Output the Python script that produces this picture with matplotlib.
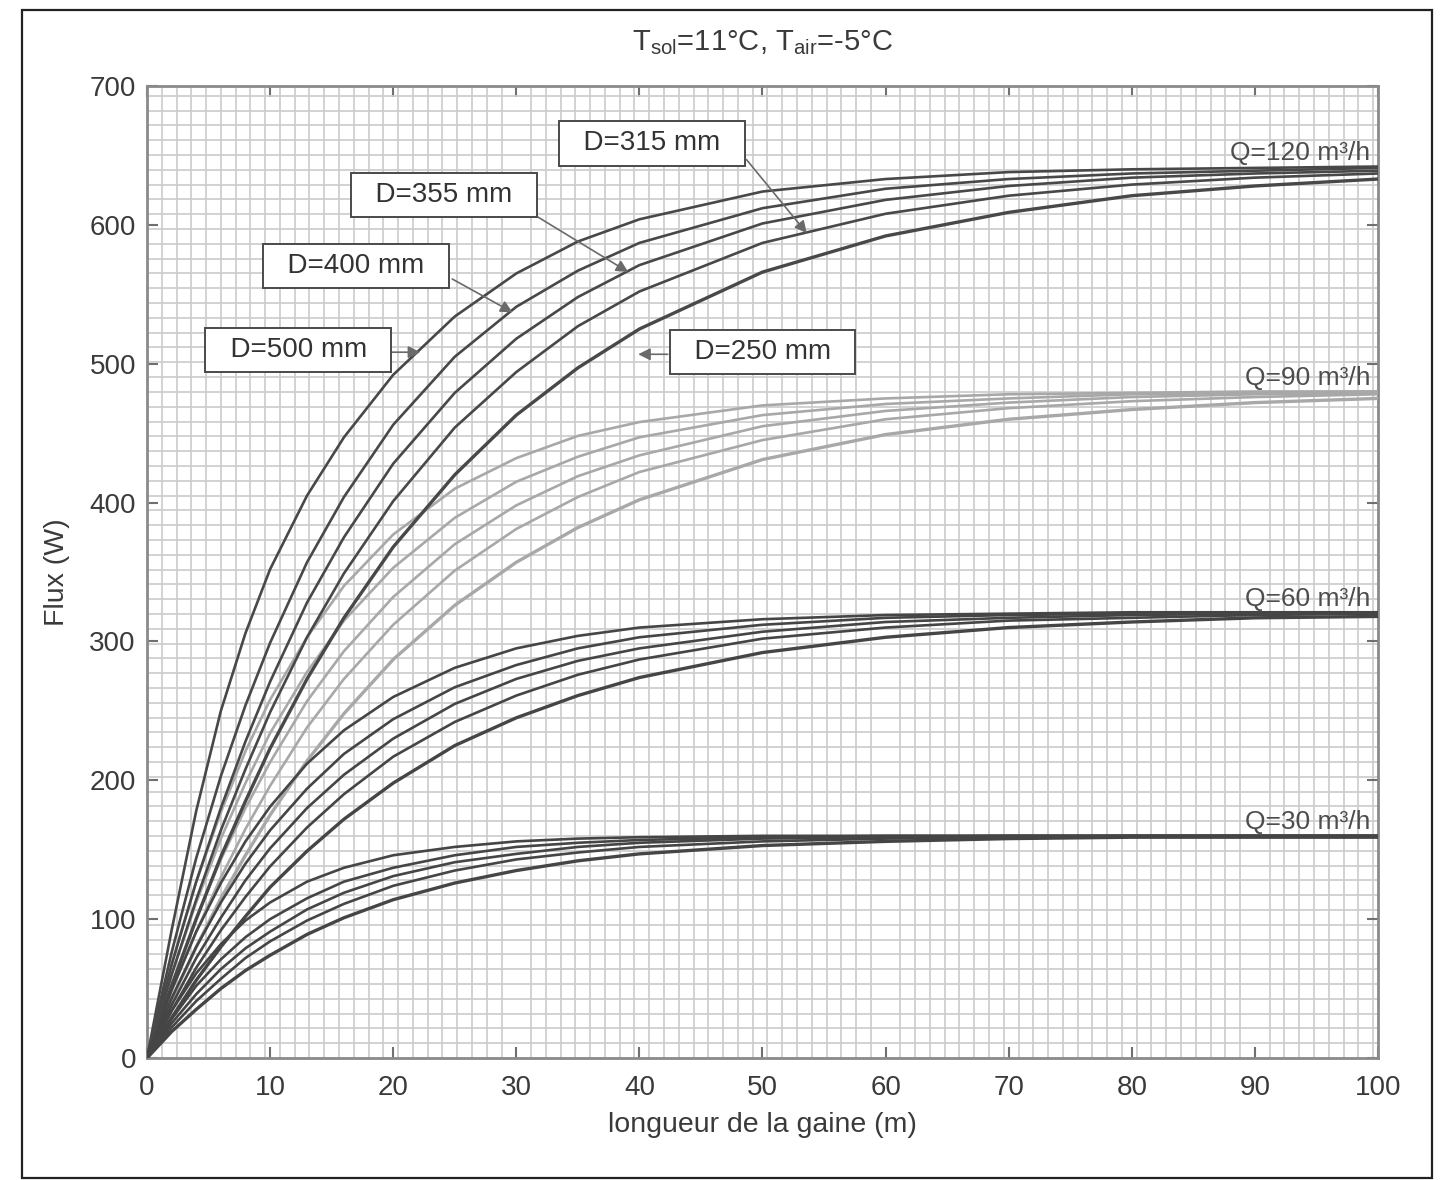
import matplotlib
matplotlib.use("Agg")
import matplotlib.pyplot as plt
from matplotlib.ticker import MultipleLocator
from matplotlib.patches import Rectangle

plt.rcParams['font.family'] = ['Liberation Sans', 'DejaVu Sans']
plt.rcParams['mathtext.fontset'] = 'custom'
plt.rcParams['mathtext.rm'] = 'Liberation Sans'

# longueur de gaine (m) aux points relevés
longueur = [0, 2, 4, 6, 8, 10, 13, 16, 20, 25, 30, 35, 40, 50, 60, 70, 80, 90, 100]
diametres = [500, 400, 355, 315, 250]
debits = [120, 90, 60, 30]

# flux (W), une ligne par diametre (500, 400, 355, 315, 250 mm)
flux_q120 = [
    [0, 92, 178, 250, 306, 352, 405, 447, 492, 534, 565, 588, 604, 624, 633, 638, 640, 641, 642],
    [0, 76, 144, 203, 254, 299, 357, 404, 456, 505, 541, 567, 587, 612, 626, 633, 637, 639, 641],
    [0, 67, 127, 180, 228, 271, 328, 375, 428, 479, 518, 548, 571, 601, 618, 628, 634, 637, 639],
    [0, 60, 114, 164, 208, 249, 303, 349, 401, 454, 494, 527, 552, 587, 608, 621, 629, 634, 637],
    [0, 52, 100, 145, 185, 223, 273, 317, 368, 420, 463, 497, 525, 566, 592, 609, 621, 628, 633],
]
flux_q90 = [
    [0, 68, 127, 177, 221, 258, 303, 340, 377, 410, 432, 448, 458, 470, 475, 478, 479, 480, 480],
    [0, 60, 112, 158, 198, 234, 278, 315, 353, 389, 415, 433, 447, 463, 471, 475, 478, 479, 480],
    [0, 53, 101, 143, 180, 213, 257, 293, 332, 370, 398, 419, 434, 455, 466, 472, 476, 478, 479],
    [0, 48, 91, 130, 165, 196, 238, 273, 312, 351, 381, 404, 422, 445, 460, 468, 473, 476, 478],
    [0, 42, 80, 115, 146, 175, 214, 248, 287, 326, 357, 382, 402, 431, 449, 460, 467, 472, 475],
]
flux_q60 = [
    [0, 49, 91, 126, 156, 181, 212, 236, 260, 281, 295, 304, 310, 316, 319, 320, 321, 321, 321],
    [0, 43, 80, 112, 140, 164, 194, 219, 244, 267, 283, 295, 303, 312, 317, 319, 320, 320, 321],
    [0, 38, 72, 101, 128, 151, 180, 204, 230, 255, 273, 286, 295, 307, 314, 317, 319, 320, 320],
    [0, 34, 65, 92, 116, 138, 166, 190, 217, 242, 261, 276, 287, 302, 310, 315, 317, 319, 320],
    [0, 29, 56, 80, 102, 123, 149, 172, 198, 225, 245, 261, 274, 292, 303, 310, 314, 317, 318],
]
flux_q30 = [
    [0, 34, 61, 82, 99, 112, 127, 137, 146, 152, 156, 158, 159, 160, 160, 160, 160, 160, 160],
    [0, 28, 52, 71, 87, 100, 115, 127, 137, 146, 152, 155, 157, 159, 160, 160, 160, 160, 160],
    [0, 25, 46, 64, 79, 91, 107, 119, 131, 141, 147, 152, 155, 158, 159, 160, 160, 160, 160],
    [0, 22, 41, 57, 72, 84, 99, 111, 124, 135, 143, 148, 152, 156, 158, 159, 160, 160, 160],
    [0, 19, 35, 50, 63, 74, 89, 101, 114, 126, 135, 142, 147, 153, 156, 158, 159, 159, 159],
]

groupes = {120: flux_q120, 90: flux_q90, 60: flux_q60, 30: flux_q30}
couleurs = {120: '#484848', 90: '#a8a8a8', 60: '#454545', 30: '#454545'}

fig = plt.figure(figsize=(14.42, 11.8), dpi=100)
ax = fig.add_axes([147 / 1442, 1 - 1058 / 1180, (1378 - 147) / 1442, (1058 - 86) / 1180])

# courbes claires d'abord (Q=90), les foncees par dessus
for q in [90, 120, 60, 30]:
    for i, serie in enumerate(groupes[q]):
        lw = 2.4 if diametres[i] == 250 else 1.9
        ax.plot(longueur, serie, color=couleurs[q], lw=lw, solid_capstyle='round',
                solid_joinstyle='round', zorder=3)
    ax.text(99.4, groupes[q][0][-1] + 1, f"Q={q} m³/h", ha='right', va='bottom',
            fontsize=19, color='#4d4d4d', zorder=5)

# etiquettes des diametres
def etiquette(txt, xy_txt, xy_fleche, depart):
    ax.annotate('', xy=xy_fleche, xytext=depart, textcoords='data',
                arrowprops=dict(arrowstyle='-|>', color='#6a6a6a', lw=1.2,
                                mutation_scale=18, shrinkA=0, shrinkB=0), zorder=6)
    ax.text(*xy_txt, "  " + txt + "  ", ha='center', va='center', fontsize=20, color='#333333',
            zorder=7, bbox=dict(boxstyle='square,pad=0.33', fc='white', ec='#4a4a4a', lw=1.4))

etiquette("D=315 mm", (41.0, 658.7), (53.6, 594), (48.7, 647))
etiquette("D=355 mm", (24.1, 621.3), (39.1, 566), (31.5, 607))
etiquette("D=400 mm", (17.0, 570.2), (29.7, 537), (24.8, 561))
etiquette("D=500 mm", (12.3, 509.7), (22.2, 508.3), (19.9, 508.3))
etiquette("D=250 mm", (50.0, 508.3), (39.9, 506.8), (42.3, 506.8))

ax.set_xlim(0, 100)
ax.set_ylim(0, 700)
ax.xaxis.set_major_locator(MultipleLocator(10))
ax.yaxis.set_major_locator(MultipleLocator(100))
ax.xaxis.set_minor_locator(MultipleLocator(1.2))
ax.yaxis.set_minor_locator(MultipleLocator(10.66))
ax.grid(which='minor', color='#cdcdcd', lw=1.25, zorder=0)
ax.set_axisbelow(True)
ax.tick_params(which='minor', length=0)
ax.tick_params(which='major', direction='in', top=True, right=True, length=8,
               width=1.5, color='#707070', labelsize=20, labelcolor='#3a3a3a')
ax.tick_params(axis='x', pad=12)
ax.tick_params(axis='y', pad=8)
for sp in ax.spines.values():
    sp.set_color('#8a8a8a')
    sp.set_linewidth(2)

ax.set_xlabel("longueur de la gaine (m)", fontsize=20.5, color='#3a3a3a', labelpad=8)
ax.set_ylabel("Flux (W)", fontsize=20.5, color='#3a3a3a', labelpad=14)
ax.set_title(r"T$_{\mathrm{sol}}$=11°C, T$_{\mathrm{air}}$=-5°C", fontsize=21,
             color='#3a3a3a', pad=26)

# cadre exterieur
fig.patches.append(Rectangle((22 / 1442, 2 / 1180), (1432 - 22) / 1442, (1178 - 10) / 1180,
                             transform=fig.transFigure, fill=False, ec='#222222', lw=1.6))

fig.savefig("out.png", dpi=100)
